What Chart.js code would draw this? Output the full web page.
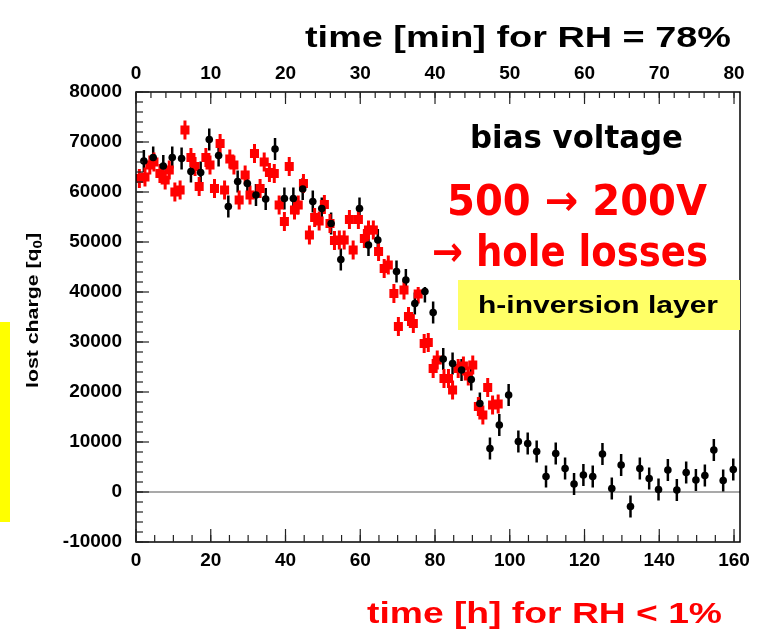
<!DOCTYPE html>
<html>
<head>
<meta charset="utf-8">
<script src="https://cdn.jsdelivr.net/npm/chart.js@4.4.1/dist/chart.umd.min.js"></script>
<style>
  html, body { margin: 0; padding: 0; background: #fff; }
  #wrap { width: 761px; height: 632px; }
  .preload { position: absolute; left: -9999px; top: 0; font-weight: bold; }
</style>
</head>
<body>
<span class="preload" style="font-family: 'Liberation Sans'">0123 time</span>
<span class="preload" style="font-family: 'DejaVu Sans'">bias voltage</span>
<div id="wrap"><canvas id="myChart" width="761" height="632"></canvas></div>
<script>
// time [h] and lost charge [q0]
const blackHours = [2.1, 4.6, 7.3, 9.7, 12.2, 14.7, 17.3, 19.6, 22.1, 24.7, 27.2, 29.8, 32.1, 34.7, 37.2,
    39.7, 42.1, 44.6, 47.3, 49.7, 52.2, 54.8, 59.8, 62.2, 64.7, 69.7, 72.2, 74.6, 77.3, 79.5,
    82.2, 84.7, 87.1, 89.7, 92.0, 94.7, 97.2, 99.7, 102.3, 104.8, 107.2, 109.7, 112.3, 114.8, 117.2,
    119.7, 122.2, 124.8, 127.3, 129.8, 132.3, 134.8, 137.3, 139.8, 142.3, 144.7, 147.2, 149.8, 152.2, 154.6,
    157.1, 159.8];
const blackCharge = [66200, 66900, 65200, 66900, 66700, 64100, 63900, 70500, 67300, 57100, 62100, 61700, 59400, 58600, 68600,
    58700, 58700, 60600, 58100, 56700, 53700, 46500, 56700, 49400, 50400, 44100, 42400, 37700, 40100, 35900,
    26600, 25700, 24400, 22500, 17700, 8700, 13400, 19400, 10100, 9700, 8100, 3100, 7700, 4700, 1600,
    3400, 3100, 7600, 700, 5400, -2900, 4700, 2700, 500, 4400, 400, 3900, 2400, 3300, 8400,
    2300, 4500];

const redHours = [0.9, 2.4, 3.7, 4.8, 6.4, 7.8, 8.9, 10.4, 11.8, 13.1, 14.7, 15.8, 16.9, 18.7, 19.8,
    21.0, 22.5, 23.7, 25.1, 26.2, 27.6, 29.2, 30.5, 31.7, 33.2, 34.3, 35.7, 37.0, 38.3, 39.7,
    41.0, 42.4, 43.4, 44.8, 46.4, 47.8, 49.0, 50.4, 51.9, 53.1, 54.4, 55.7, 57.1, 58.1, 59.5,
    61.1, 62.2, 63.5, 64.9, 66.4, 67.5, 69.0, 70.2, 71.7, 72.9, 74.2, 75.5, 77.1, 78.2, 79.5,
    80.6, 82.4, 83.6, 84.7, 86.2, 87.6, 88.9, 90.1, 91.6, 92.8, 94.1, 95.4, 96.9];
const redCharge = [62700, 63000, 65400, 66000, 63700, 62400, 64400, 60000, 60400, 72400, 66900, 65100, 61100, 66900, 65400,
    60700, 69700, 60400, 66600, 65400, 58400, 63400, 59400, 67700, 60700, 66000, 63900, 63700, 57400, 54100,
    65100, 56400, 57400, 61700, 51400, 54900, 54200, 57500, 53700, 50300, 50400, 50400, 54500, 48400, 54500,
    50700, 52400, 52400, 48100, 44700, 45400, 39700, 33100, 40400, 35100, 33700, 39600, 29700, 29900, 24700,
    26400, 22700, 22700, 20400, 24700, 25200, 23200, 25400, 17100, 15400, 20900, 17400, 17600];

const hourTicks = [0, 20, 40, 60, 80, 100, 120, 140, 160];
const minuteTicks = [0, 10, 20, 30, 40, 50, 60, 70, 80];
const chargeTicks = [-10000, 0, 10000, 20000, 30000, 40000, 50000, 60000, 70000, 80000];

const topTitle = 'time [min] for RH = 78%';
const bottomTitle = 'time [h] for RH < 1%';
const yTitle = 'lost charge [q';
const noteLines = ['bias voltage', '500 \u2192 200V', '\u2192 hole losses'];
const boxLabel = 'h-inversion layer';

const ARIAL = '"Liberation Sans", Arimo, Arial, sans-serif';
const COMIC = '"Comic Sans MS", "DejaVu Sans", sans-serif';

// draw text squeezed/stretched to a given width, x = left edge, y = baseline
function fitText(ctx, text, x, y, width, font, color) {
    ctx.save();
    ctx.font = font;
    ctx.fillStyle = color;
    ctx.textAlign = 'left';
    ctx.textBaseline = 'alphabetic';
    const w = ctx.measureText(text).width;
    ctx.translate(x, y);
    ctx.scale(width / w, 1);
    ctx.fillText(text, 0, 0);
    ctx.restore();
}

function innerTicks(ctx, scale, from, to, step, len, edge, dir, vertical) {
    for (let v = from; v <= to + 1e-9; v += step) {
        const p = scale.getPixelForValue(v);
        ctx.beginPath();
        if (vertical) {
            ctx.moveTo(edge, p);
            ctx.lineTo(edge + dir * len, p);
        } else {
            ctx.moveTo(p, edge);
            ctx.lineTo(p, edge + dir * len);
        }
        ctx.stroke();
    }
}

const errorBars = {
    id: 'errorBars',
    beforeDatasetsDraw(chart) {
        const ctx = chart.ctx;
        const area = chart.chartArea;
        const y = chart.scales.y;
        // zero line
        ctx.save();
        ctx.strokeStyle = '#8c8c8c';
        ctx.lineWidth = 1.5;
        ctx.beginPath();
        ctx.moveTo(area.left, y.getPixelForValue(0));
        ctx.lineTo(area.right, y.getPixelForValue(0));
        ctx.stroke();
        ctx.restore();

        chart.data.datasets.forEach(function (ds, i) {
            const meta = chart.getDatasetMeta(i);
            ctx.save();
            ctx.strokeStyle = ds.borderColor;
            ctx.lineWidth = ds.errWidth;
            meta.data.forEach(function (pt, j) {
                const v = ds.data[j].y;
                ctx.beginPath();
                ctx.moveTo(pt.x, y.getPixelForValue(v + ds.err));
                ctx.lineTo(pt.x, y.getPixelForValue(v - ds.err));
                ctx.stroke();
            });
            ctx.restore();
        });
    }
};

const decorations = {
    id: 'decorations',
    afterDatasetsDraw(chart) {
        const ctx = chart.ctx;
        const a = chart.chartArea;
        const x = chart.scales.x, x2 = chart.scales.x2, y = chart.scales.y;

        // white patch behind the notes
        ctx.fillStyle = '#fff';
        ctx.fillRect(412, 105, 733 - 412, 287 - 105);

        // frame
        ctx.save();
        ctx.strokeStyle = '#000';
        ctx.lineWidth = 1.5;
        ctx.strokeRect(a.left, a.top, a.right - a.left, a.bottom - a.top);

        // ticks pointing inward
        ctx.lineWidth = 1.2;
        ctx.strokeStyle = '#222';
        innerTicks(ctx, y, -10000, 80000, 10000, 13, a.left, 1, true);
        innerTicks(ctx, y, -10000, 80000, 2000, 7, a.left, 1, true);
        innerTicks(ctx, x, 0, 160, 20, 13, a.bottom, -1, false);
        innerTicks(ctx, x, 0, 160, 5, 7, a.bottom, -1, false);
        innerTicks(ctx, x2, 0, 80, 10, 12, a.top, 1, false);
        innerTicks(ctx, x2, 0, 80, 2, 6, a.top, 1, false);
        ctx.restore();

        // yellow marker on the far left
        ctx.fillStyle = '#ffff00';
        ctx.fillRect(0, 322, 10, 200);

        // yellow label box
        ctx.fillStyle = '#ffff66';
        ctx.fillRect(458, 280, 282, 50);
        fitText(ctx, boxLabel, 478, 313, 240, 'bold 24px ' + ARIAL, '#000');

        // notes
        fitText(ctx, noteLines[0], 470, 148, 213, 'bold 32px ' + COMIC, '#000');
        fitText(ctx, noteLines[1], 447, 215, 260, 'bold 42px ' + COMIC, '#ff0000');
        fitText(ctx, noteLines[2], 432, 266, 276, 'bold 42px ' + COMIC, '#ff0000');

        // axis titles
        fitText(ctx, topTitle, 305, 47, 426, 'bold 30px ' + ARIAL, '#000');
        fitText(ctx, bottomTitle, 367, 623, 355, 'bold 30px ' + ARIAL, '#ff0000');

        // y title with subscript
        ctx.save();
        ctx.translate(38, 388);
        ctx.rotate(-Math.PI / 2);
        const mainFont = 'bold 17px ' + ARIAL;
        const subFont = 'bold 12px ' + ARIAL;
        ctx.font = mainFont;
        const w1 = ctx.measureText(yTitle).width;
        const w3 = ctx.measureText(']').width;
        ctx.font = subFont;
        const w2 = ctx.measureText('0').width;
        ctx.scale(155 / (w1 + w2 + w3), 1);
        ctx.fillStyle = '#000';
        ctx.textBaseline = 'alphabetic';
        ctx.font = mainFont;
        ctx.fillText(yTitle, 0, 0);
        ctx.font = subFont;
        ctx.fillText('0', w1, 4);
        ctx.font = mainFont;
        ctx.fillText(']', w1 + w2, 0);
        ctx.restore();
    }
};

function drawChart() {
    Chart.defaults.font.family = ARIAL;
    Chart.defaults.font.size = 19;
    Chart.defaults.font.weight = 'bold';
    Chart.defaults.color = '#000';

    const ctx = document.getElementById('myChart').getContext('2d');

    const myChart = new Chart(ctx, {
        type: 'scatter',
        data: {
            datasets: [{
                label: 'RH = 78%',
                data: blackHours.map(function (h, i) { return { x: h, y: blackCharge[i] }; }),
                pointStyle: 'circle',
                pointRadius: 3.8,
                backgroundColor: '#000',
                borderColor: '#000',
                borderWidth: 0,
                err: 2200,
                errWidth: 2.5
            }, {
                label: 'RH < 1%',
                data: redHours.map(function (h, i) { return { x: h, y: redCharge[i] }; }),
                pointStyle: 'rect',
                pointRadius: 6.4,
                backgroundColor: '#ff0000',
                borderColor: '#ff0000',
                borderWidth: 0,
                err: 1900,
                errWidth: 3
            }]
        },
        options: {
            responsive: false,
            animation: false,
            devicePixelRatio: 1,
            layout: { padding: { left: 0, right: 21, top: 0, bottom: 0 } },
            plugins: {
                legend: { display: false },
                tooltip: { enabled: false }
            },
            scales: {
                x: {
                    type: 'linear',
                    position: 'bottom',
                    min: 0,
                    max: 161.6,
                    grid: { display: false, drawTicks: false },
                    border: { display: false },
                    ticks: { padding: 7, maxRotation: 0 },
                    afterBuildTicks: function (s) { s.ticks = hourTicks.map(function (v) { return { value: v }; }); },
                    afterFit: function (s) { s.height = 90; }
                },
                x2: {
                    type: 'linear',
                    position: 'top',
                    min: 0,
                    max: 80.8,
                    grid: { display: false, drawTicks: false },
                    border: { display: false },
                    ticks: { padding: 7, maxRotation: 0 },
                    afterBuildTicks: function (s) { s.ticks = minuteTicks.map(function (v) { return { value: v }; }); },
                    afterFit: function (s) { s.height = 92; }
                },
                y: {
                    type: 'linear',
                    min: -10000,
                    max: 80000,
                    grid: { display: false, drawTicks: false },
                    border: { display: false },
                    ticks: {
                        padding: 14,
                        callback: function (v) { return String(v); }
                    },
                    afterBuildTicks: function (s) { s.ticks = chargeTicks.map(function (v) { return { value: v }; }); },
                    afterFit: function (s) { s.width = 136; }
                }
            }
        },
        plugins: [errorBars, decorations]
    });
}

Promise.all([
    document.fonts.load('bold 19px "Liberation Sans"'),
    document.fonts.load('bold 30px "DejaVu Sans"')
]).then(drawChart, drawChart);
</script>
</body>
</html>
